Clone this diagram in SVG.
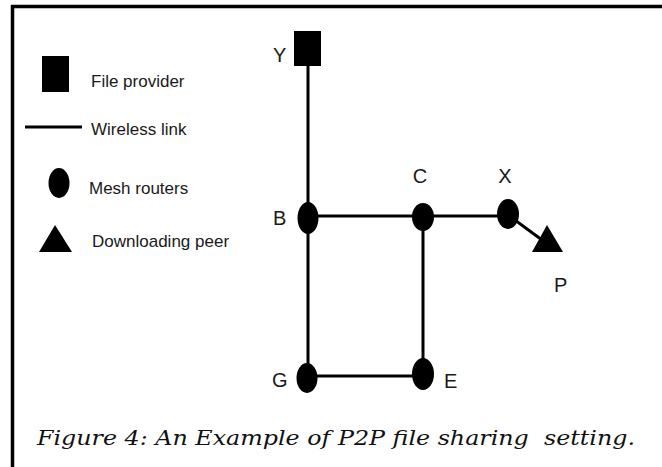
<svg xmlns="http://www.w3.org/2000/svg" width="662" height="467" viewBox="0 0 662 467">
<style>
.lbl{font-family:"Liberation Sans",Arial,sans-serif;fill:#1a1a1a}
.leg{font-size:17px}
.nl{font-size:20px}
.link{stroke:#000;stroke-width:3;fill:none}
.cap{font-family:"DejaVu Serif","Liberation Serif",serif;font-style:italic;font-size:21px;fill:#111}
</style>
<rect x="0" y="0" width="662" height="467" fill="#fff"/>
<g id="frame">
<line x1="11" y1="6.5" x2="662" y2="6.5" stroke="#000" stroke-width="3.5"/>
<line x1="12.5" y1="5" x2="12.5" y2="467" stroke="#000" stroke-width="3.5"/>
</g>
<g id="legend">
<rect x="42" y="56" width="27" height="36" fill="#000"/>
<text class="lbl leg" x="91" y="87">File provider</text>
<line x1="25" y1="127" x2="82" y2="127" class="link"/>
<text class="lbl leg" x="91" y="135">Wireless link</text>
<ellipse cx="59" cy="183" rx="10.5" ry="15" fill="#000"/>
<text class="lbl leg" x="89" y="194">Mesh routers</text>
<polygon points="55,225 39,252 72,252" fill="#000"/>
<text class="lbl leg" x="92" y="247">Downloading peer</text>
</g>
<g id="connectors">
<line x1="308" y1="60" x2="308" y2="378" class="link"/>
<line x1="308" y1="216" x2="508" y2="216" class="link"/>
<line x1="423" y1="216" x2="423" y2="374" class="link"/>
<line x1="308" y1="376" x2="423" y2="376" class="link"/>
<line x1="508" y1="215" x2="542" y2="240" class="link"/>
</g>
<g id="node-Y">
<rect x="294" y="31" width="27" height="35" fill="#000"/>
<text class="lbl nl" x="273" y="62">Y</text>
</g>
<g id="node-B">
<ellipse cx="308" cy="218" rx="10.5" ry="16" fill="#000"/>
<text class="lbl nl" x="273" y="225">B</text>
</g>
<g id="node-C">
<ellipse cx="423" cy="217" rx="11" ry="14" fill="#000"/>
<text class="lbl nl" x="420" y="183" text-anchor="middle">C</text>
</g>
<g id="node-X">
<ellipse cx="508" cy="214" rx="11" ry="15" fill="#000"/>
<text class="lbl nl" x="505" y="183" text-anchor="middle">X</text>
</g>
<g id="node-P">
<polygon points="547,225 532,252 563,252" fill="#000"/>
<text class="lbl nl" x="554" y="292">P</text>
</g>
<g id="node-E">
<ellipse cx="423" cy="374" rx="11" ry="16" fill="#000"/>
<text class="lbl nl" x="444" y="388">E</text>
</g>
<g id="node-G">
<ellipse cx="307" cy="378" rx="10.5" ry="15" fill="#000"/>
<text class="lbl nl" x="272" y="387">G</text>
</g>
<text class="cap" x="37" y="445" textLength="598" lengthAdjust="spacingAndGlyphs" xml:space="preserve">Figure 4: An Example of P2P file sharing  setting.</text>
</svg>
